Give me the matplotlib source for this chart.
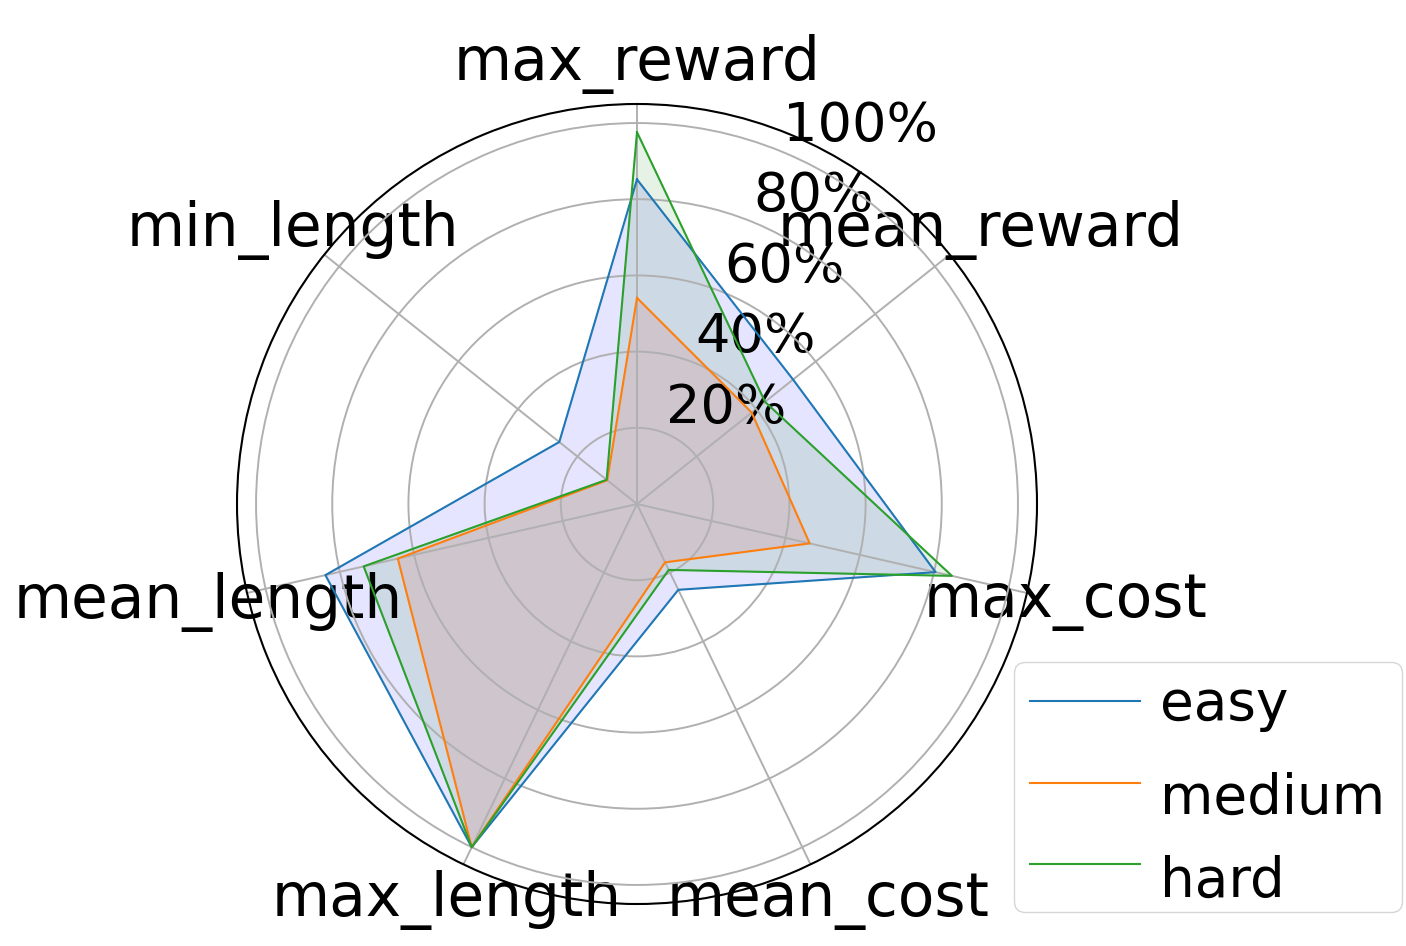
import numpy as np
import matplotlib
matplotlib.use('Agg')
import matplotlib.pyplot as plt
from matplotlib.transforms import ScaledTranslation

# categories around the radar, clockwise from the top
categories = ['max_reward', 'mean_reward', 'max_cost', 'mean_cost',
              'max_length', 'mean_length', 'min_length']

# normalised values (0..1)
easy = [0.852, 0.524, 0.804, 0.250, 1.000, 0.839, 0.261]
medium = [0.541, 0.385, 0.465, 0.170, 1.000, 0.644, 0.100]
hard = [0.976, 0.430, 0.848, 0.192, 1.000, 0.736, 0.102]

series_names = ['easy', 'medium', 'hard']
r_ticks = [0.2, 0.4, 0.6, 0.8, 1.0]
r_tick_labels = ['20%', '40%', '60%', '80%', '100%']

angles = np.linspace(0, 2 * np.pi, len(categories), endpoint=False)
closed = np.concatenate([angles, angles[:1]])

fig = plt.figure(figsize=(14.06, 9.46), dpi=100)
ax = fig.add_axes([237 / 1406, 42 / 946, 800 / 1406, 800 / 946], polar=True)
ax.set_theta_offset(np.pi / 2)
ax.set_theta_direction(-1)

line_colors = ['C0', 'C1', 'C2']
fill_colors = ['b', 'r', 'g']
for name, vals, lc, fc in zip(series_names, [easy, medium, hard], line_colors, fill_colors):
    v = np.concatenate([vals, vals[:1]])
    ax.plot(closed, v, color=lc, linewidth=1.5, label=name)
    ax.fill(closed, v, color=fc, alpha=0.1)

ax.set_xticks(angles)
ax.set_xticklabels(categories, fontsize=43)
ax.tick_params(axis='x', pad=18)
ax.set_yticks(r_ticks)
ax.set_yticklabels(r_tick_labels, fontsize=39)
ax.set_ylim(0, 1.05)
ax.grid(True, linewidth=1.4, color='#b0b0b0')
ax.spines['polar'].set_linewidth(1.5)

leg = ax.legend(loc='upper left', bbox_to_anchor=(1014 / 1406, 1 - 662 / 946),
                bbox_transform=fig.transFigure, borderaxespad=0, fontsize=39.5,
                borderpad=0.3, labelspacing=0.5, handletextpad=0.36)
# the lower two labels sit a little below their handles in the original
for t, dy in zip(leg.get_texts()[1:], [12, 13]):
    t.set_transform(t.get_transform() + ScaledTranslation(0, -dy / 100, fig.dpi_scale_trans))

fig.savefig('out.png', dpi=100)
plt.close(fig)
